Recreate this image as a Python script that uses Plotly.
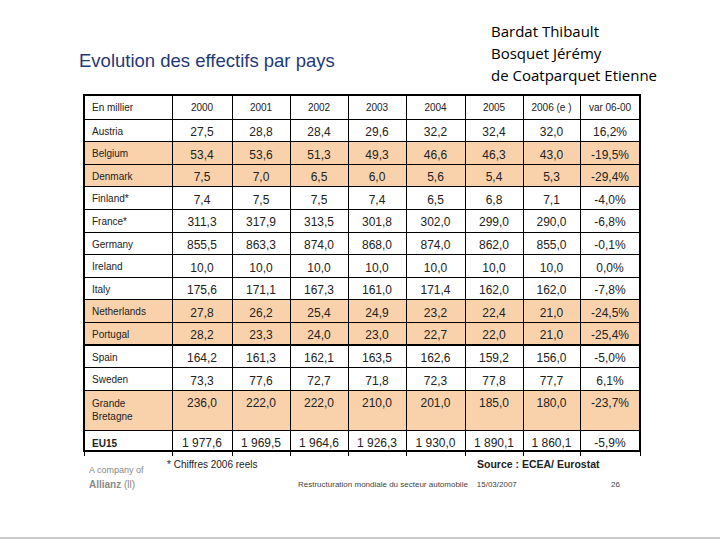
import plotly.graph_objects as go

# ---------------- data ----------------
NB = "\u00a0"
header = ["En" + NB + "millier", "2000", "2001", "2002", "2003", "2004", "2005",
          "2006" + NB + "(e" + NB + ")", "var" + NB + "06-00"]
countries = ["Austria", "Belgium", "Denmark", "Finland*", "France*", "Germany", "Ireland", "Italy",
             "Netherlands", "Portugal", "Spain", "Sweden", "Grande<br>Bretagne", "<b>EU15</b>"]
y2000 = [27.5, 53.4, 7.5, 7.4, 311.3, 855.5, 10.0, 175.6, 27.8, 28.2, 164.2, 73.3, 236.0, 1977.6]
y2001 = [28.8, 53.6, 7.0, 7.5, 317.9, 863.3, 10.0, 171.1, 26.2, 23.3, 161.3, 77.6, 222.0, 1969.5]
y2002 = [28.4, 51.3, 6.5, 7.5, 313.5, 874.0, 10.0, 167.3, 25.4, 24.0, 162.1, 72.7, 222.0, 1964.6]
y2003 = [29.6, 49.3, 6.0, 7.4, 301.8, 868.0, 10.0, 161.0, 24.9, 23.0, 163.5, 71.8, 210.0, 1926.3]
y2004 = [32.2, 46.6, 5.6, 6.5, 302.0, 874.0, 10.0, 171.4, 23.2, 22.7, 162.6, 72.3, 201.0, 1930.0]
y2005 = [32.4, 46.3, 5.4, 6.8, 299.0, 862.0, 10.0, 162.0, 22.4, 22.0, 159.2, 77.8, 185.0, 1890.1]
y2006 = [32.0, 43.0, 5.3, 7.1, 290.0, 855.0, 10.0, 162.0, 21.0, 21.0, 156.0, 77.7, 180.0, 1860.1]
var_06_00 = [16.2, -19.5, -29.4, -4.0, -6.8, -0.1, 0.0, -7.8, -24.5, -25.4, -5.0, 6.1, -23.7, -5.9]
highlighted = ["Belgium", "Denmark", "Netherlands", "Portugal", "Grande<br>Bretagne"]


def fr(v):
    return f"{v:,.1f}".replace(",", NB).replace(".", ",")


def pct(v):
    return f"{v:.1f}".replace(".", ",") + "%"


cols = [countries] + [[fr(v) for v in s] for s in (y2000, y2001, y2002, y2003, y2004, y2005, y2006)] \
       + [[pct(v) for v in var_06_00]]

PEACH = "#F9D2AC"
row_fill = [PEACH if c in highlighted else "white" for c in countries]
fills = [row_fill] * len(cols)

W, H = 720, 540
x0, x1 = 84, 640
y_top, y_bot = 95, 456

fig = go.Figure(go.Table(
    domain=dict(x=[x0 / W, x1 / W], y=[1 - y_bot / H, 1 - y_top / H]),
    columnwidth=[88, 60, 58, 58, 58, 59, 58, 57, 60],
    header=dict(values=header, height=24, fill_color="white",
                line=dict(color="black", width=1),
                align=["left"] + ["center"] * 8,
                font=dict(family="Liberation Sans, Arial", size=10, color="#222222")),
    cells=dict(values=cols, height=22.6, fill_color=fills,
               line=dict(color="black", width=1),
               align=["left"] + ["center"] * 8,
               font=dict(family="Liberation Sans, Arial", size=[10] + [12] * 8, color="#222222")),
))

anns = []


def add(text, px, py, size, color="#222222", family="Liberation Sans, Arial", xanchor="left", **kw):
    anns.append(dict(text=text, x=px / W, y=1 - py / H, xref="paper", yref="paper",
                     xanchor=xanchor, yanchor="middle", showarrow=False,
                     font=dict(size=size, color=color, family=family), **kw))


add("Evolution des effectifs par pays", 77, 60, 18.5, color="#1F3A78")
add("Bardat Thibault", 489, 31, 15, color="black", family="Open Sans")
add("Bosquet Jérémy", 489, 53, 15, color="black", family="Open Sans")
add("de Coatparquet Etienne", 489, 75, 15, color="black", family="Open Sans")
add("* Chiffres 2006 reels", 165, 464, 10)
add("<b>Source : ECEA/ Eurostat</b>", 475, 464, 10.5)
add("A company of", 87, 470, 9, color="#888888")
add("<b>Allianz</b> (ll)", 87, 484, 10, color="#8a8a8a")
add("Restructuration mondiale du secteur automobile    15/03/2007", 296, 484, 8, color="#444444")
add("26", 609, 484, 8, color="#444444")

fig.update_layout(
    width=W, height=H, margin=dict(l=0, r=0, t=0, b=0),
    paper_bgcolor="white", plot_bgcolor="white",
    annotations=anns,
    shapes=[
        dict(type="rect", xref="paper", yref="paper", x0=x0 / W, x1=x1 / W,
             y0=1 - 451 / H, y1=1 - y_top / H, line=dict(color="black", width=2)),
        dict(type="line", xref="paper", yref="paper", x0=0, x1=1, y0=1 - 538 / H, y1=1 - 538 / H,
             line=dict(color="#999999", width=1)),
    ],
)

fig.write_html("out.html", config={"displayModeBar": False},
               post_script="document.body.style.margin='0px';")
